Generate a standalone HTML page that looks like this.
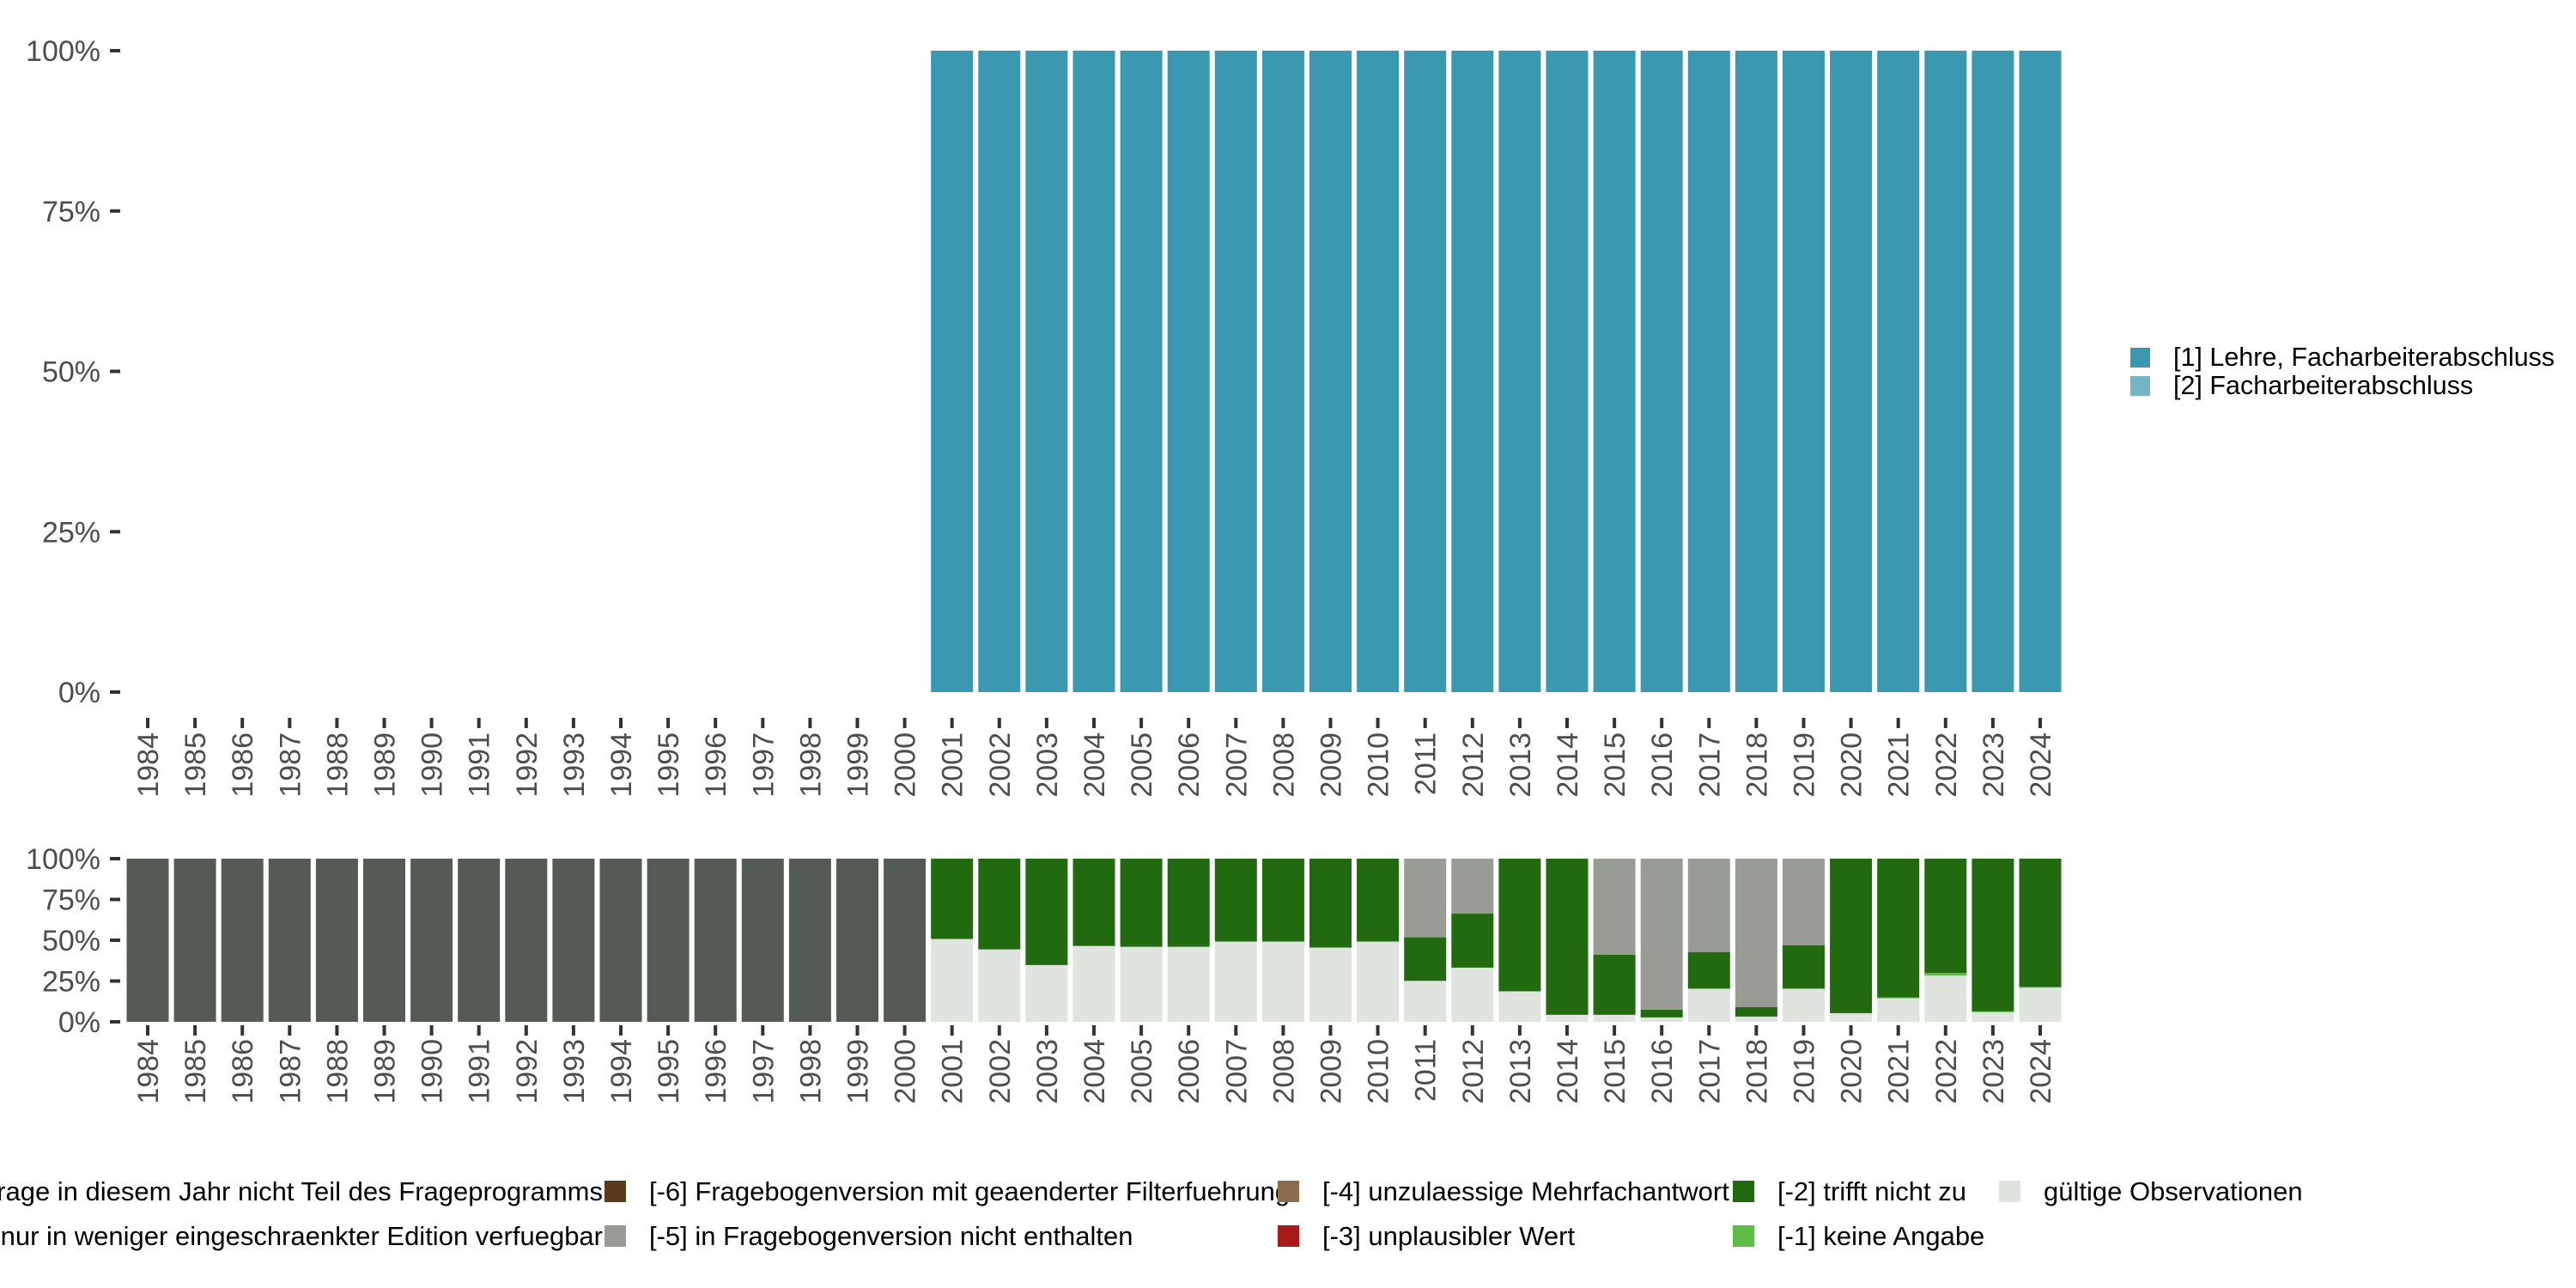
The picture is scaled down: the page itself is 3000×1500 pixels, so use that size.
<!DOCTYPE html>
<html><head><meta charset="utf-8">
<style>
html,body{margin:0;padding:0;background:#fff;}
svg{display:block;font-family:"Liberation Sans",sans-serif;}
</style></head>
<body>
<svg id="chart" width="3000" height="1500" viewBox="0 0 3000 1500" xmlns="http://www.w3.org/2000/svg">
<g id="top"></g>
<g id="bottom"></g>
<g id="legend-right"></g>
<g id="legend-bottom"></g>
</svg>
<script>
const years = [1984,1985,1986,1987,1988,1989,1990,1991,1992,1993,1994,1995,1996,1997,1998,1999,2000,2001,2002,2003,2004,2005,2006,2007,2008,2009,2010,2011,2012,2013,2014,2015,2016,2017,2018,2019,2020,2021,2022,2023,2024];
// top panel: share of [1] among valid answers (null = no data)
const topLehre = [null,null,null,null,null,null,null,null,null,null,null,null,null,null,null,null,null,1,1,1,1,1,1,1,1,1,1,1,1,1,1,1,1,1,1,1,1,1,1,1,1];
const topFach = [null,null,null,null,null,null,null,null,null,null,null,null,null,null,null,null,null,0,0,0,0,0,0,0,0,0,0,0,0,0,0,0,0,0,0,0,0,0,0,0,0];
// bottom panel shares (stack order bottom->top: valid, [-1], [-2], [-5], [-8])
const valid  = [0,0,0,0,0,0,0,0,0,0,0,0,0,0,0,0,0,0.508,0.444,0.348,0.465,0.46,0.46,0.492,0.492,0.455,0.492,0.251,0.332,0.187,0.043,0.043,0.027,0.203,0.032,0.203,0.053,0.144,0.283,0.059,0.209];
const noAns  = [0,0,0,0,0,0,0,0,0,0,0,0,0,0,0,0,0,0,0,0,0,0,0,0,0,0,0,0,0,0,0,0,0,0,0,0,0,0.005,0.016,0.005,0.005];
const notApp = [0,0,0,0,0,0,0,0,0,0,0,0,0,0,0,0,0,0.492,0.556,0.652,0.535,0.54,0.54,0.508,0.508,0.545,0.508,0.267,0.331,0.813,0.957,0.369,0.048,0.225,0.059,0.267,0.947,0.851,0.701,0.936,0.786];
const notInVer = [0,0,0,0,0,0,0,0,0,0,0,0,0,0,0,0,0,0,0,0,0,0,0,0,0,0,0,0.482,0.337,0,0,0.588,0.925,0.572,0.909,0.53,0,0,0,0,0];
const notInYear = [1,1,1,1,1,1,1,1,1,1,1,1,1,1,1,1,1,0,0,0,0,0,0,0,0,0,0,0,0,0,0,0,0,0,0,0,0,0,0,0,0];
const pctTicks = [0,0.25,0.5,0.75,1];
const pctLabels = ["0%","25%","50%","75%","100%"];

const NS="http://www.w3.org/2000/svg";
function mk(tag,attrs,parent){const e=document.createElementNS(NS,tag);for(const k in attrs)e.setAttribute(k,attrs[k]);parent.appendChild(e);return e;}
const step=55.1, bw=49, x0=172;
function xs(i){return x0+i*step;}
function yTop(v){return 806-v*747;}
function yBot(v){return 1190-v*190;}

function axes(g,yf,tickY1,labelY,name){
  pctTicks.forEach((t,i)=>{
    const tk=mk('rect',{x:128,y:yf(t)-2,width:12,height:4,fill:'#333'},g);
    
    
    const tx=mk('text',{x:117,y:yf(t)+12,'text-anchor':'end','font-size':34,fill:'#4d4d4d'},g);
    tx.textContent=pctLabels[i];
    
    
  });
  years.forEach((yr,i)=>{
    const tk=mk('rect',{x:xs(i)-2,y:tickY1,width:4,height:12,fill:'#333'},g);
    
    
    const tx=mk('text',{x:0,y:0,'text-anchor':'end','font-size':34,fill:'#4d4d4d',transform:`translate(${xs(i)+12},${labelY}) rotate(-90)`},g);
    tx.textContent=yr;
    
    
  });
}
const gT=document.getElementById('top'), gB=document.getElementById('bottom');
axes(gT,yTop,836,853,'top');
axes(gB,yBot,1194,1210,'bottom');

years.forEach((yr,i)=>{
  if(topLehre[i]!==null){
    const r=mk('rect',{x:xs(i)-bw/2,y:yTop(topLehre[i]+topFach[i]),width:bw,height:yTop(topFach[i])-yTop(topLehre[i]+topFach[i]),fill:'#3a98b0'},gT);
    
    
    if(topFach[i]>0){
      const r2=mk('rect',{x:xs(i)-bw/2,y:yTop(topFach[i]),width:bw,height:yTop(0)-yTop(topFach[i]),fill:'#73b5c6'},gT);
      
      
    }
  }
  const series=[[valid,'#e0e4df','valid'],[noAns,'#5dbd46','no-answer'],[notApp,'#216a10','not-applicable'],[notInVer,'#989c95','not-in-version'],[notInYear,'#545a54','not-in-year']];
  let cum=0;
  series.forEach(s=>{
    const v=s[0][i];
    if(v>0){
      const r=mk('rect',{x:xs(i)-bw/2,y:yBot(cum+v),width:bw,height:yBot(cum)-yBot(cum+v),fill:s[1]},gB);
      
      
    }
    cum+=v;
  });
});

const gR=document.getElementById('legend-right');
[['[1] Lehre, Facharbeiterabschluss','#3a98b0',405],['[2] Facharbeiterabschluss','#73b5c6',438]].forEach(l=>{
  const r=mk('rect',{x:2481,y:l[2],width:23,height:23,fill:l[1]},gR);
  
  
  const t=mk('text',{x:2531,y:l[2]+21,'font-size':30.5,fill:'#000'},gR);
  t.textContent=l[0];
  
  
});

const gL=document.getElementById('legend-bottom');
const bl=[
 ['[-8] Frage in diesem Jahr nicht Teil des Frageprogramms','#545a54',null,1387],
 ['[-7] Frage nur in weniger eingeschraenkter Edition verfuegbar','#c8cbc6',null,1439],
 ['[-6] Fragebogenversion mit geaenderter Filterfuehrung','#5a3a1a',704,1387],
 ['[-5] in Fragebogenversion nicht enthalten','#989c95',704,1439],
 ['[-4] unzulaessige Mehrfachantwort','#8b6c4c',1488,1387],
 ['[-3] unplausibler Wert','#a81a1a',1488,1439],
 ['[-2] trifft nicht zu','#216a10',2018,1387],
 ['[-1] keine Angabe','#5dbd46',2018,1439],
 ['gültige Observationen','#e0e4df',2328,1387]
];
bl.forEach(l=>{
  if(l[2]===null){
    const t=mk('text',{x:702,y:l[3]+11,'text-anchor':'end','font-size':31,fill:'#000'},gL);
    t.textContent=l[0];
    
    
  } else {
    const r=mk('rect',{x:l[2],y:l[3]-12,width:25,height:25,fill:l[1]},gL);
    
    
    const t=mk('text',{x:l[2]+52,y:l[3]+11,'font-size':31,fill:'#000'},gL);
    t.textContent=l[0];
    
    
  }
});
</script>
</body></html>
